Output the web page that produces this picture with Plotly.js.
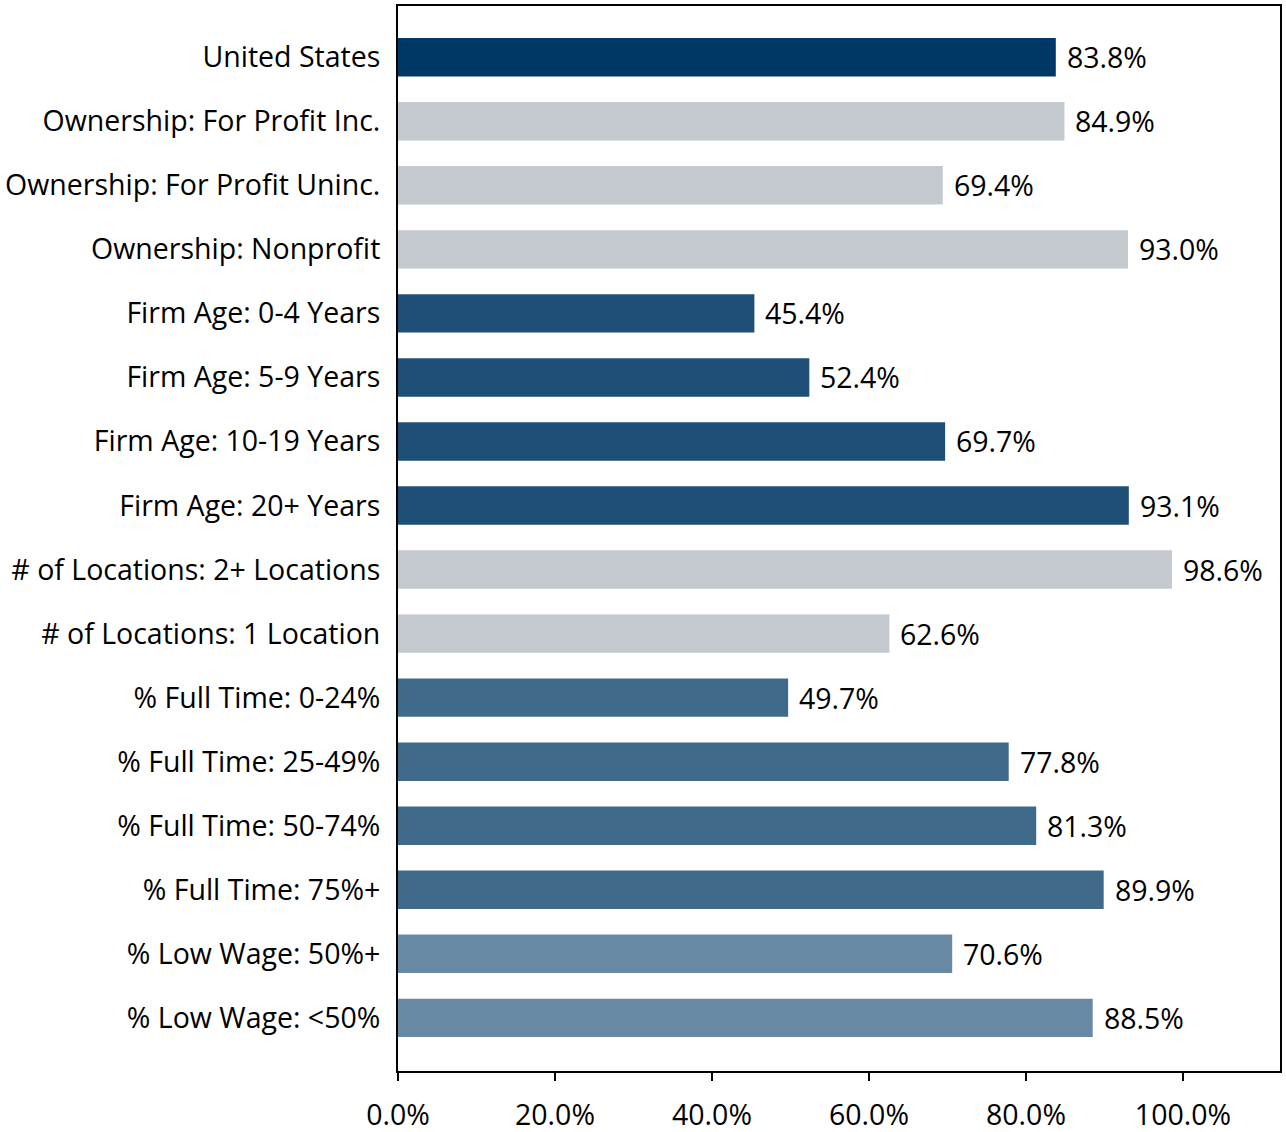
<!DOCTYPE html>
<html>
<head>
<meta charset="utf-8">
<script src="https://cdn.plot.ly/plotly-3.0.1.min.js"></script>
<style>html,body{margin:0;padding:0;background:#fff;}#chart{width:1286px;height:1132px;}</style>
</head>
<body>
<div id="chart"></div>
<script>
const categories = [
  "United States",
  "Ownership: For Profit Inc.",
  "Ownership: For Profit Uninc.",
  "Ownership: Nonprofit",
  "Firm Age: 0-4 Years",
  "Firm Age: 5-9 Years",
  "Firm Age: 10-19 Years",
  "Firm Age: 20+ Years",
  "# of Locations: 2+ Locations",
  "# of Locations: 1 Location",
  "% Full Time: 0-24%",
  "% Full Time: 25-49%",
  "% Full Time: 50-74%",
  "% Full Time: 75%+",
  "% Low Wage: 50%+",
  "% Low Wage: <50%"
];
const values = [83.8, 84.9, 69.4, 93.0, 45.4, 52.4, 69.7, 93.1, 98.6, 62.6, 49.7, 77.8, 81.3, 89.9, 70.6, 88.5];
const groups = ["us","own","own","own","age","age","age","age","loc","loc","ft","ft","ft","ft","lw","lw"];
const groupColors = {us:"#003865", own:"#c3c9cf", age:"#1f4e76", loc:"#c3c9cf", ft:"#3f6a8a", lw:"#6789a4"};
const xTicks = [0, 20, 40, 60, 80, 100];

const FONT = "'Open Sans', 'Noto Sans', sans-serif";
const FS = 28.5;

const trace = {
  type: "bar",
  orientation: "h",
  y: categories,
  x: values,
  width: 0.6,
  marker: {color: groups.map(g => groupColors[g]), line: {width: 0}},
  hoverinfo: "none"
};

const annotations = categories.map((c, i) => ({
  x: values[i], y: c, xref: "x", yref: "y",
  text: values[i].toFixed(1) + "%",
  showarrow: false, xanchor: "left", yanchor: "middle", xshift: 9,
  font: {family: FONT, size: FS, color: "#000"}
}));

const layout = {
  width: 1286, height: 1132,
  margin: {l: 398, r: 6, t: 6, b: 61, pad: 0},
  paper_bgcolor: "#fff", plot_bgcolor: "#fff",
  showlegend: false,
  font: {family: FONT, size: FS, color: "#000"},
  xaxis: {
    range: [0, 112.36],
    tickvals: xTicks,
    ticktext: xTicks.map(v => v.toFixed(1) + "%"),
    ticks: "outside", ticklen: 8, tickwidth: 2, tickcolor: "#000",
    showline: true, linecolor: "#000", linewidth: 2, mirror: true,
    showgrid: false, zeroline: false,
    tickfont: {family: FONT, size: FS, color: "#000"},
    ticklabelstandoff: 10
  },
  yaxis: {
    type: "category",
    range: [15.83, -0.8],
    ticks: "",
    showline: true, linecolor: "#000", linewidth: 2, mirror: true,
    showgrid: false, zeroline: false,
    tickfont: {family: FONT, size: FS, color: "#000"},
    ticklabelstandoff: 10
  },
  annotations: annotations
};

Plotly.newPlot("chart", [trace], layout, {staticPlot: true, displayModeBar: false});
</script>
</body>
</html>
